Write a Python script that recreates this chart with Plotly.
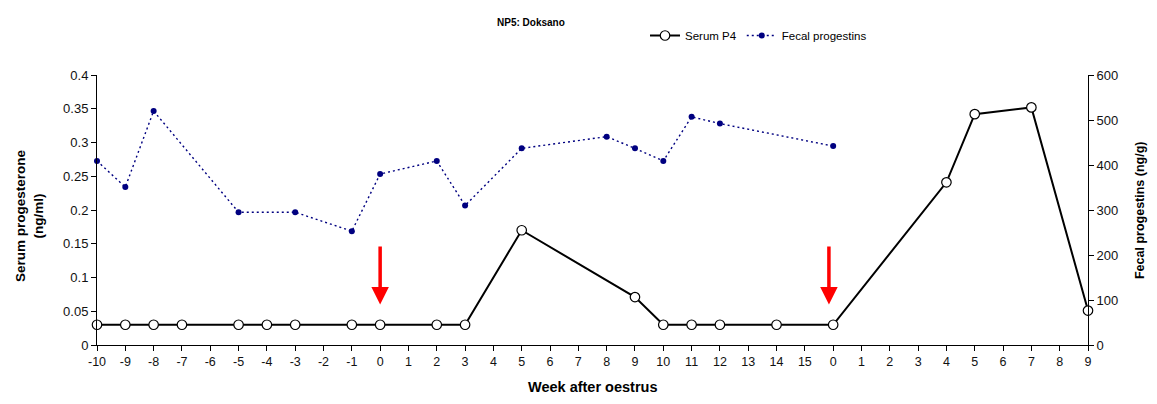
import plotly.graph_objects as go

# Category labels on the x axis (two consecutive cycles)
week_labels = [str(w) for w in range(-10, 16)] + [str(w) for w in range(0, 10)]

# Serum P4 (ng/ml), left axis; None = not sampled
serum_p4 = [0.03, 0.03, 0.03, 0.03, None, 0.03, 0.03, 0.03, None, 0.03,
            0.03, None, 0.03, 0.03, None, 0.17, None, None, None, 0.071,
            0.03, 0.03, 0.03, None, 0.03, None, 0.03, None, None, None,
            0.241, 0.342, None, 0.352, None, 0.051]

# Fecal progestins (ng/g), right axis
fecal = [409, 351, 520, None, None, 295, None, 295, None, 253,
         380, None, 409, 310, None, 437, None, None, 463, 437,
         409, 507, 492, None, None, None, 442, None, None, None,
         None, None, None, None, None, None]

# Oestrus markers (category positions) and arrow span (ng/ml)
arrow_pos = [10, 25.85]
arrow_top, arrow_tip = 0.148, 0.06

xpos = list(range(len(week_labels)))
FONT = "Liberation Sans, Arial, sans-serif"

fig = go.Figure()
fig.add_trace(go.Scatter(
    x=xpos, y=serum_p4, name="Serum P4", mode="lines+markers",
    connectgaps=True, cliponaxis=False,
    line=dict(color="black", width=2),
    marker=dict(symbol="circle", size=9.5, color="white",
                line=dict(color="black", width=1.2)),
))
fig.add_trace(go.Scatter(
    x=xpos, y=fecal, name="Fecal progestins", mode="lines+markers",
    connectgaps=True, cliponaxis=False, yaxis="y2",
    line=dict(color="#000080", width=1.4, dash="2px,3px"),
    marker=dict(symbol="circle", size=6, color="#000080"),
))

annotations = []
for p in arrow_pos:
    annotations.append(dict(
        x=p, y=arrow_tip, ax=p, ay=arrow_top, xref="x", yref="y",
        axref="x", ayref="y", text="", showarrow=True,
        arrowcolor="#ff0000", arrowwidth=3.5, arrowhead=2, arrowsize=1,
    ))

def label(text, x, y, size, angle=0):
    return dict(text=text, x=x, y=y, xref="paper", yref="paper",
                xanchor="center", yanchor="middle", textangle=angle,
                showarrow=False, font=dict(size=size, color="black", family=FONT))

annotations += [
    label("<b>NP5: Doksano</b>", 0.438, 1.196, 10),
    label("<b>Serum progesterone<br>(ng/ml)</b>", -0.068, 0.48, 13.5, -90),
    label("<b>Fecal progestins (ng/g)</b>", 1.0525, 0.5, 12.5, -90),
    label("<b>Week after oestrus</b>", 0.5, -0.157, 14.5),
]

fig.update_layout(
    width=1141, height=388,
    margin=dict(l=89, r=61, t=67, b=51),
    paper_bgcolor="white", plot_bgcolor="white",
    font=dict(family=FONT, size=12, color="black"),
    showlegend=True,
    legend=dict(orientation="h", x=0.553, y=1.2, xanchor="left", yanchor="top",
                font=dict(size=11.5, family=FONT), bgcolor="rgba(0,0,0,0)",
                itemwidth=30),
    xaxis=dict(range=[0, len(week_labels) - 1], tickvals=xpos, ticktext=week_labels,
               showgrid=False, zeroline=False, showline=True, linecolor="black",
               linewidth=1, ticks="outside", ticklen=5, tickcolor="black",
               tickfont=dict(size=12.5, color="#111")),
    yaxis=dict(range=[0, 0.4], dtick=0.05, showgrid=False, zeroline=False,
               showline=True, linecolor="black", linewidth=1, ticks="outside",
               ticklen=5, tickcolor="black", tickfont=dict(size=13, color="#111")),
    yaxis2=dict(range=[0, 600], dtick=100, overlaying="y", side="right",
                showgrid=False, zeroline=False, showline=True, linecolor="black",
                linewidth=1, ticks="outside", ticklen=5, tickcolor="black",
                tickfont=dict(size=13, color="#111")),
    annotations=annotations,
)

fig.write_html("out.html")
